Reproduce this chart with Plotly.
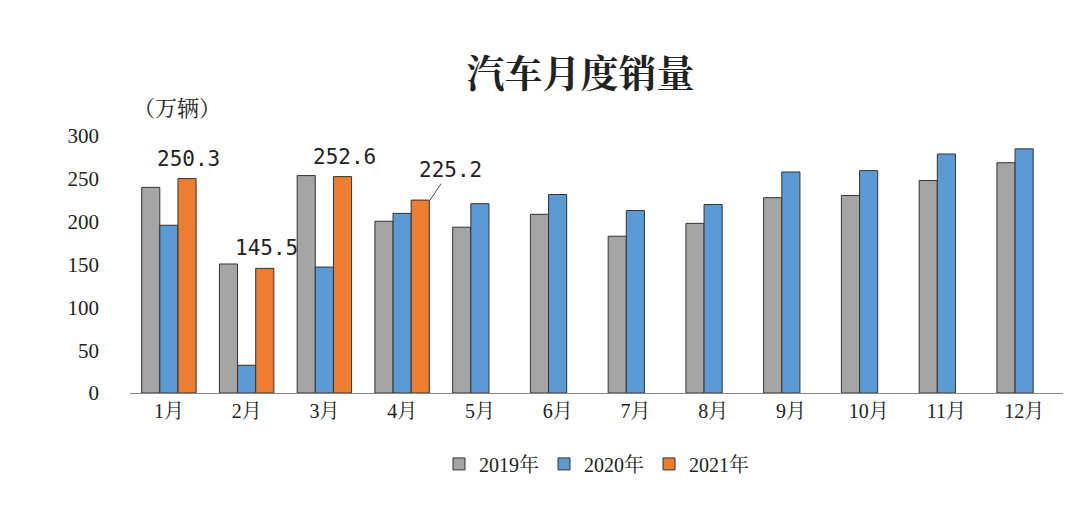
import plotly.graph_objects as go

months = ["1月","2月","3月","4月","5月","6月","7月","8月","9月","10月","11月","12月"]
s2019 = [240, 150.6, 253.8, 200.5, 193.5, 208.6, 183, 198, 228, 230.6, 248, 268.8]
s2020 = [195.8, 32.4, 147, 209.7, 221, 231.7, 213, 220, 258, 259.6, 279, 285]
s2021 = [250.3, 145.5, 252.6, 225.2]
labels2021 = ["250.3", "145.5", "252.6", "225.2"]

font = "Liberation Serif, Noto Serif CJK SC, Noto Sans CJK SC"
line = dict(color="#333333", width=1)
fig = go.Figure()
fig.add_bar(x=months, y=s2019, name="2019年", marker=dict(color="#a5a5a5", line=line))
fig.add_bar(x=months, y=s2020, name="2020年", marker=dict(color="#5b9bd5", line=line))
fig.add_bar(x=months[:4], y=s2021, name="2021年", marker=dict(color="#ed7d31", line=line))

for i, (m, v) in enumerate(zip(months[:4], s2021)):
    fig.add_annotation(x=m, y=v, text=labels2021[i], showarrow=(i == 3),
                       ax=20 if i == 3 else 0, ay=-30 if i == 3 else 0,
                       arrowhead=0, arrowwidth=1, arrowcolor="#555",
                       xshift=(28 if i == 3 else 20), yshift=(0 if i == 3 else 20),
                       font=dict(size=21, family="DejaVu Sans Mono, Liberation Mono", color="#222"))

fig.update_layout(
    width=1080, height=528, barmode="group", bargap=0.3, bargroupgap=0,
    paper_bgcolor="white", plot_bgcolor="white",
    margin=dict(l=122, r=25, t=128, b=143),
    font=dict(family=font, size=20, color="#222"),
    title=dict(text="<b>汽车月度销量</b>", x=0.53, y=0.9, xanchor="center",
               font=dict(size=38, family="Noto Serif CJK SC, Noto Sans CJK SC")),
    legend=dict(orientation="h", x=0.5, xanchor="center", y=-0.2, yanchor="top",
                font=dict(size=20)),
    showlegend=True,
)
fig.update_yaxes(range=[0, 300], dtick=50, showgrid=False, showline=False, ticks="",
                 tickfont=dict(size=21), ticklabelstandoff=30)
fig.update_xaxes(showline=True, linecolor="#888", linewidth=1, tickfont=dict(size=20))
fig.add_annotation(xref="paper", yref="paper", x=0.1, y=1.05, text="（万辆）",
                   showarrow=False, xanchor="right", yanchor="bottom", font=dict(size=22))
fig.write_html("out.html")
